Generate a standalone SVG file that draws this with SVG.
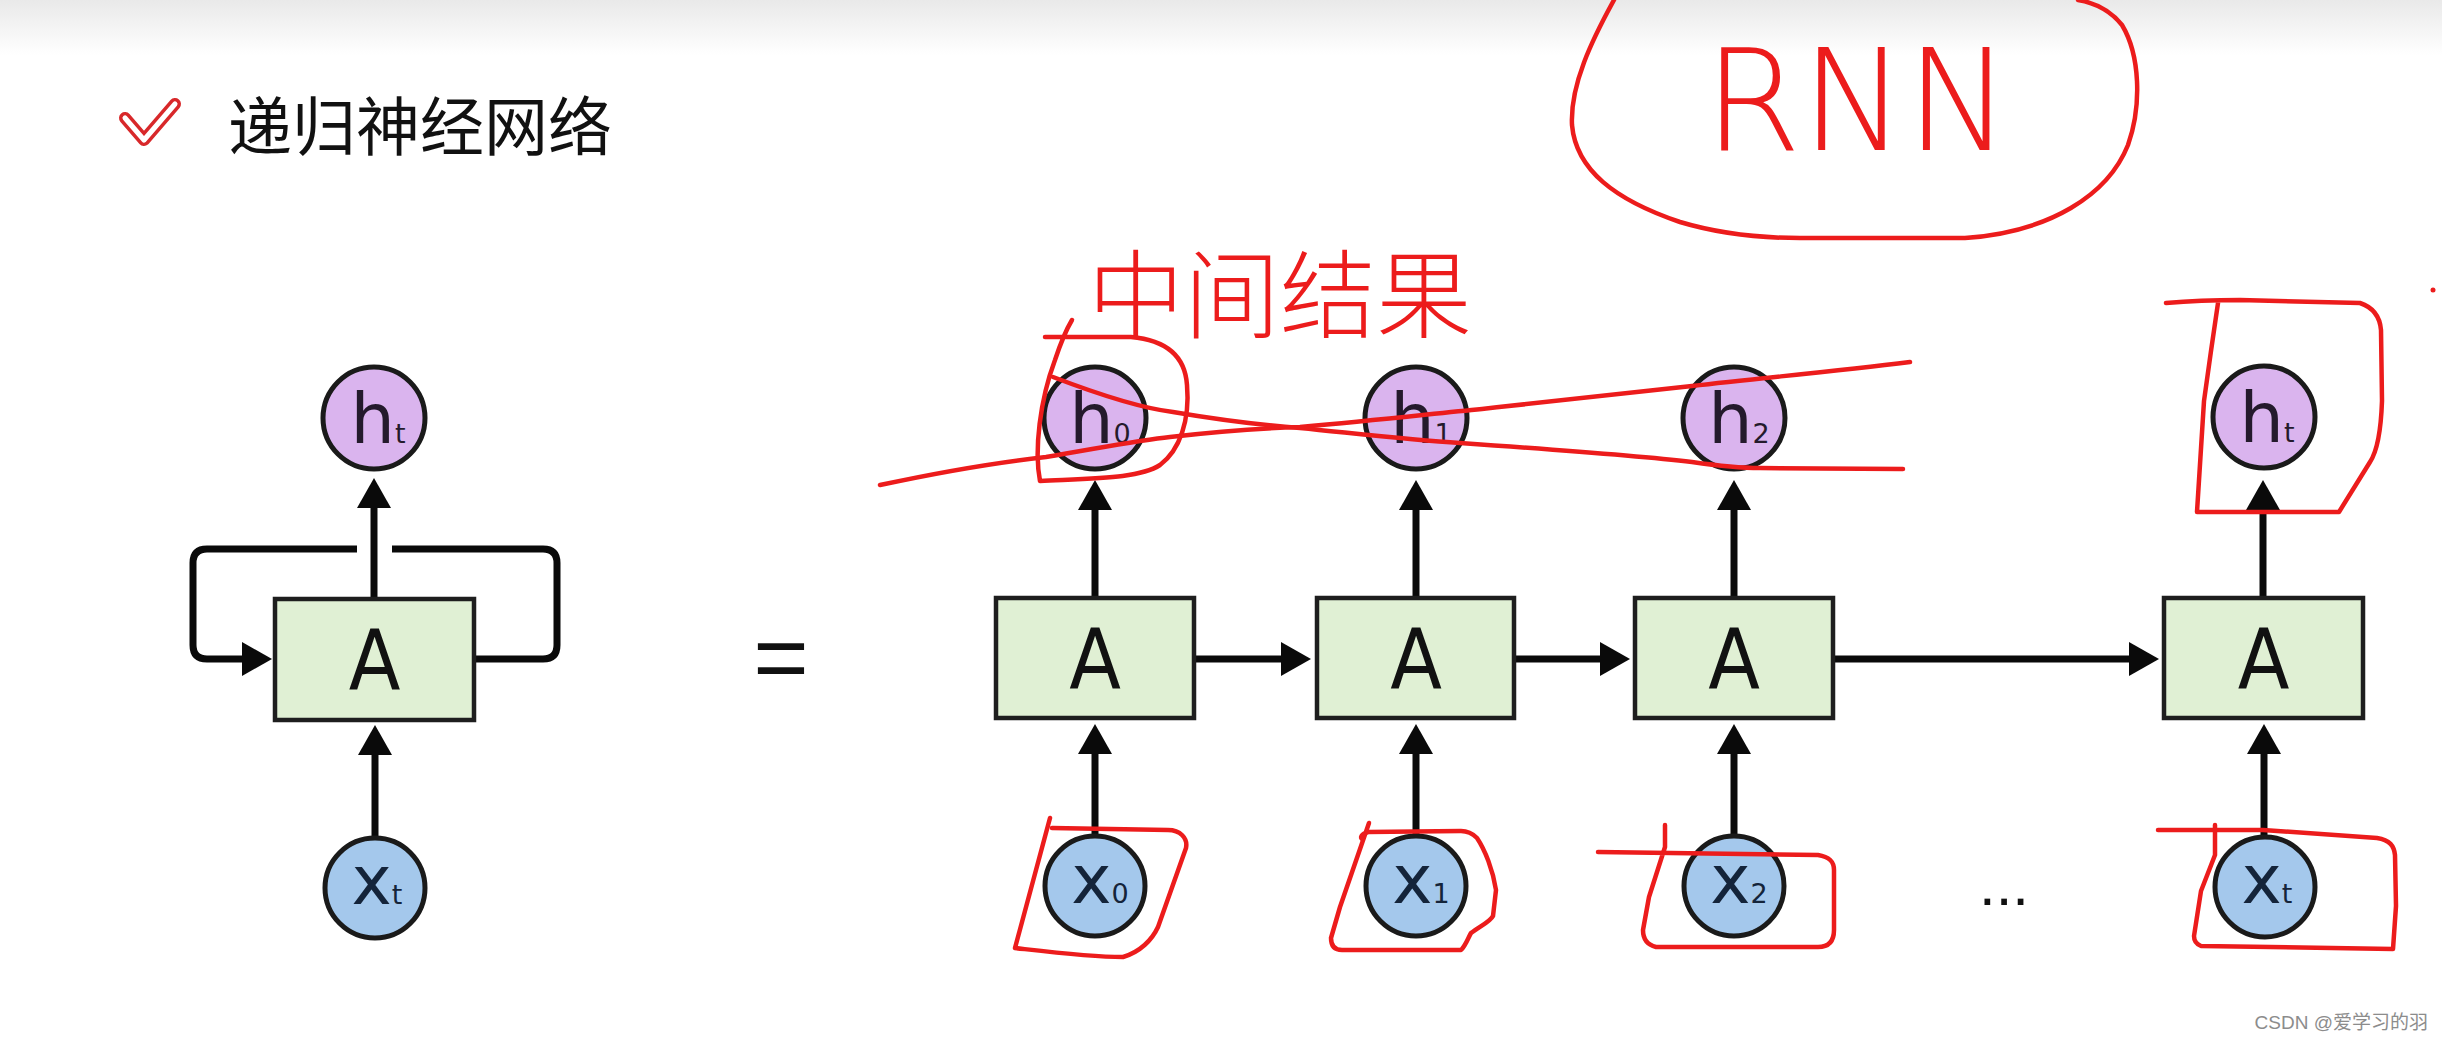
<svg xmlns="http://www.w3.org/2000/svg" width="2442" height="1041" viewBox="0 0 2442 1041">
  <defs>
    <linearGradient id="topband" x1="0" y1="0" x2="0" y2="1">
      <stop offset="0" stop-color="#e9e9e9"/>
      <stop offset="1" stop-color="#ffffff"/>
    </linearGradient>
    <marker id="arrow" markerUnits="userSpaceOnUse" markerWidth="32" markerHeight="36" refX="4" refY="17" orient="auto">
      <path d="M0,0 L30,17 L0,34 Z" fill="#0a0a0a"/>
    </marker>
    <style>
      .box { fill: #e0f0d4; stroke: #1e1e1e; stroke-width: 4.5; }
      .hc { fill: #dab4ee; stroke: #1a1a1a; stroke-width: 5; }
      .xc { fill: #a4c8ec; stroke: #1a1a1a; stroke-width: 5; }
      .lblA { font-family: "DejaVu Sans Condensed", "DejaVu Sans", sans-serif; font-size: 84px; fill: #111; text-anchor: middle; }
      .lblH { font-family: "DejaVu Sans", sans-serif; font-size: 70px; fill: #241a2c; text-anchor: middle; }
      .lblX { font-family: "DejaVu Sans", sans-serif; font-size: 68px; fill: #14243a; text-anchor: middle; }
      .sub { font-size: 27px; }
      .conn { stroke: #0a0a0a; stroke-width: 7; fill: none; }
      .red { stroke: #ec1c1c; stroke-width: 4.5; fill: none; stroke-linecap: round; stroke-linejoin: round; }
    </style>
  </defs>

  <rect x="0" y="0" width="2442" height="1041" fill="#ffffff"/>
  <rect x="0" y="0" width="2442" height="55" fill="url(#topband)"/>

  <!-- title -->
  <g id="title">
    <polyline points="125,118 144,140 175,104" fill="none" stroke="#d8282a" stroke-width="12" stroke-linecap="round" stroke-linejoin="round"/>
    <polyline points="125,118 144,140 175,104" fill="none" stroke="#ffffff" stroke-width="5" stroke-linecap="round" stroke-linejoin="round"/>
    <text x="228" y="150" font-family="Noto Sans CJK SC, sans-serif" font-size="64" fill="#111">递归神经网络</text>
  </g>

  <!-- connectors -->
  <g id="connectors">
    <!-- left folded diagram -->
    <line class="conn" x1="374" y1="599" x2="374" y2="504" marker-end="url(#arrow)"/>
    <line class="conn" x1="375" y1="838" x2="375" y2="751" marker-end="url(#arrow)"/>
    <path class="conn" d="M474,659 L543,659 Q557,659 557,645 L557,563 Q557,549 543,549 L392,549 M357,549 L207,549 Q193,549 193,563 L193,645 Q193,659 207,659 L246,659" marker-end="url(#arrow)"/>
    <!-- unrolled diagram: vertical -->
    <line class="conn" x1="1095" y1="598" x2="1095" y2="506" marker-end="url(#arrow)"/>
    <line class="conn" x1="1416" y1="598" x2="1416" y2="506" marker-end="url(#arrow)"/>
    <line class="conn" x1="1734" y1="598" x2="1734" y2="506" marker-end="url(#arrow)"/>
    <line class="conn" x1="2263" y1="598" x2="2263" y2="506" marker-end="url(#arrow)"/>
    <line class="conn" x1="1095" y1="836" x2="1095" y2="750" marker-end="url(#arrow)"/>
    <line class="conn" x1="1416" y1="836" x2="1416" y2="750" marker-end="url(#arrow)"/>
    <line class="conn" x1="1734" y1="836" x2="1734" y2="750" marker-end="url(#arrow)"/>
    <line class="conn" x1="2264" y1="836" x2="2264" y2="750" marker-end="url(#arrow)"/>
    <!-- horizontal -->
    <line class="conn" x1="1195" y1="659" x2="1285" y2="659" marker-end="url(#arrow)"/>
    <line class="conn" x1="1515" y1="659" x2="1604" y2="659" marker-end="url(#arrow)"/>
    <line class="conn" x1="1834" y1="659" x2="2133" y2="659" marker-end="url(#arrow)"/>
  </g>

  <!-- left folded RNN -->
  <g id="left-h">
    <circle class="hc" cx="374" cy="418" r="51"/>
    <text class="lblH" x="378" y="443">h<tspan class="sub">t</tspan></text>
  </g>
  <g id="left-A">
    <rect class="box" x="275" y="599" width="199" height="121"/>
    <text class="lblA" x="374.5" y="690">A</text>
  </g>
  <g id="left-x">
    <circle class="xc" cx="375" cy="888" r="50"/>
    <text class="lblX" x="377" y="904">x<tspan class="sub">t</tspan></text>
  </g>
  <g id="equals">
    <text x="781" y="690" font-family="Liberation Sans, sans-serif" font-size="95" fill="#111" text-anchor="middle">=</text>
  </g>

  <!-- unrolled RNN -->
  <g id="h0"><circle class="hc" cx="1095" cy="418" r="51"/><text class="lblH" x="1100" y="443">h<tspan class="sub">0</tspan></text></g>
  <g id="h1"><circle class="hc" cx="1416" cy="418" r="51"/><text class="lblH" x="1421" y="443">h<tspan class="sub">1</tspan></text></g>
  <g id="h2"><circle class="hc" cx="1734" cy="418" r="51"/><text class="lblH" x="1739" y="443">h<tspan class="sub">2</tspan></text></g>
  <g id="ht"><circle class="hc" cx="2264" cy="417" r="51"/><text class="lblH" x="2267" y="442">h<tspan class="sub">t</tspan></text></g>

  <g id="A0"><rect class="box" x="996" y="598" width="198" height="120"/><text class="lblA" x="1095" y="689">A</text></g>
  <g id="A1"><rect class="box" x="1317" y="598" width="197" height="120"/><text class="lblA" x="1416" y="689">A</text></g>
  <g id="A2"><rect class="box" x="1635" y="598" width="198" height="120"/><text class="lblA" x="1734" y="689">A</text></g>
  <g id="At"><rect class="box" x="2164" y="598" width="199" height="120"/><text class="lblA" x="2263.5" y="689">A</text></g>

  <g id="x0"><circle class="xc" cx="1095" cy="886" r="50"/><text class="lblX" x="1100" y="903">x<tspan class="sub">0</tspan></text></g>
  <g id="x1"><circle class="xc" cx="1416" cy="886" r="50"/><text class="lblX" x="1421" y="903">x<tspan class="sub">1</tspan></text></g>
  <g id="x2"><circle class="xc" cx="1734" cy="886" r="50"/><text class="lblX" x="1739" y="903">x<tspan class="sub">2</tspan></text></g>
  <g id="xt"><circle class="xc" cx="2265" cy="887" r="50"/><text class="lblX" x="2267" y="903">x<tspan class="sub">t</tspan></text></g>

  <g id="ellipsis">
    <text x="1979" y="905" font-family="Liberation Sans, sans-serif" font-size="60" fill="#111">...</text>
  </g>

  <!-- red hand annotations -->
  <g id="annotations">
    <path class="red" d="M1614,0 C1592,40 1570,85 1572,125 C1576,170 1615,200 1680,222 C1720,234 1760,238 1800,238 L1965,238 C2050,232 2108,195 2128,145 C2142,105 2140,55 2122,25 C2110,10 2096,3 2078,0"/>
    <text x="1704" y="150" font-family="DejaVu Sans, sans-serif" font-weight="200" font-size="140" fill="#ec1c1c">RNN</text>
    <text x="1088" y="330" font-family="Noto Sans CJK SC, sans-serif" font-weight="300" font-size="96" fill="#ec1c1c">中间结果</text>
    <circle cx="2433" cy="290" r="2.5" fill="#ec1c1c"/>
    <!-- crossing lines over h0..h2 -->
    <path class="red" d="M880,485 C950,470 1000,462 1046,457 C1100,448 1140,440 1170,437 C1230,430 1270,428 1300,427 C1380,420 1430,414 1482,409 C1560,400 1640,392 1692,386 C1760,378 1830,372 1910,362"/>
    <path class="red" d="M1053,377 C1100,395 1140,408 1173,412 C1220,420 1260,425 1300,428 C1360,434 1410,440 1460,443 C1560,450 1640,456 1692,462 C1720,466 1740,468 1760,468 L1903,469"/>
    <!-- boxes -->
    <path class="red" d="M1045,337 L1131,337 C1165,340 1185,355 1187,385 C1190,420 1180,450 1160,465 C1140,478 1100,478 1040,481 C1034,450 1040,400 1055,360 C1060,345 1066,330 1072,320"/>
    <path class="red" d="M2166,303 C2200,300 2220,300 2240,300 L2360,303 C2375,308 2380,318 2381,330 L2382,401 C2381,430 2378,450 2370,462 L2339,512 L2197,512 L2204,401 L2211,351 L2218,303"/>
    <path class="red" d="M1050,818 L1015,948 C1050,952 1090,957 1123,957 C1140,952 1152,940 1158,927 L1186,848 C1188,838 1180,830 1168,830 L1052,828"/>
    <path class="red" d="M1369,823 L1340,907 L1331,938 C1331,945 1334,950 1342,950 L1461,950 C1466,945 1468,938 1471,933 C1480,926 1490,922 1493,916 L1496,890 C1493,870 1485,850 1477,838 C1472,833 1466,831 1461,831 L1368,832 C1362,834 1359,837 1363,840"/>
    <path class="red" d="M1598,852 L1818,855 C1830,857 1834,862 1834,870 L1834,930 C1834,942 1828,947 1818,947 L1656,947 C1648,945 1643,940 1643,930 L1649,897 L1665,847 L1665,825"/>
    <path class="red" d="M2158,830 L2263,830 L2377,838 C2390,840 2394,846 2395,855 L2396,906 L2393,949 L2201,946 C2196,944 2194,940 2194,936 L2201,891 L2215,855 L2215,825"/>
  </g>

  <g id="watermark">
    <text x="2428" y="1029" font-family="Liberation Sans, Noto Sans CJK SC, sans-serif" font-size="19" fill="#8c8c8c" text-anchor="end">CSDN @爱学习的羽</text>
  </g>
</svg>
